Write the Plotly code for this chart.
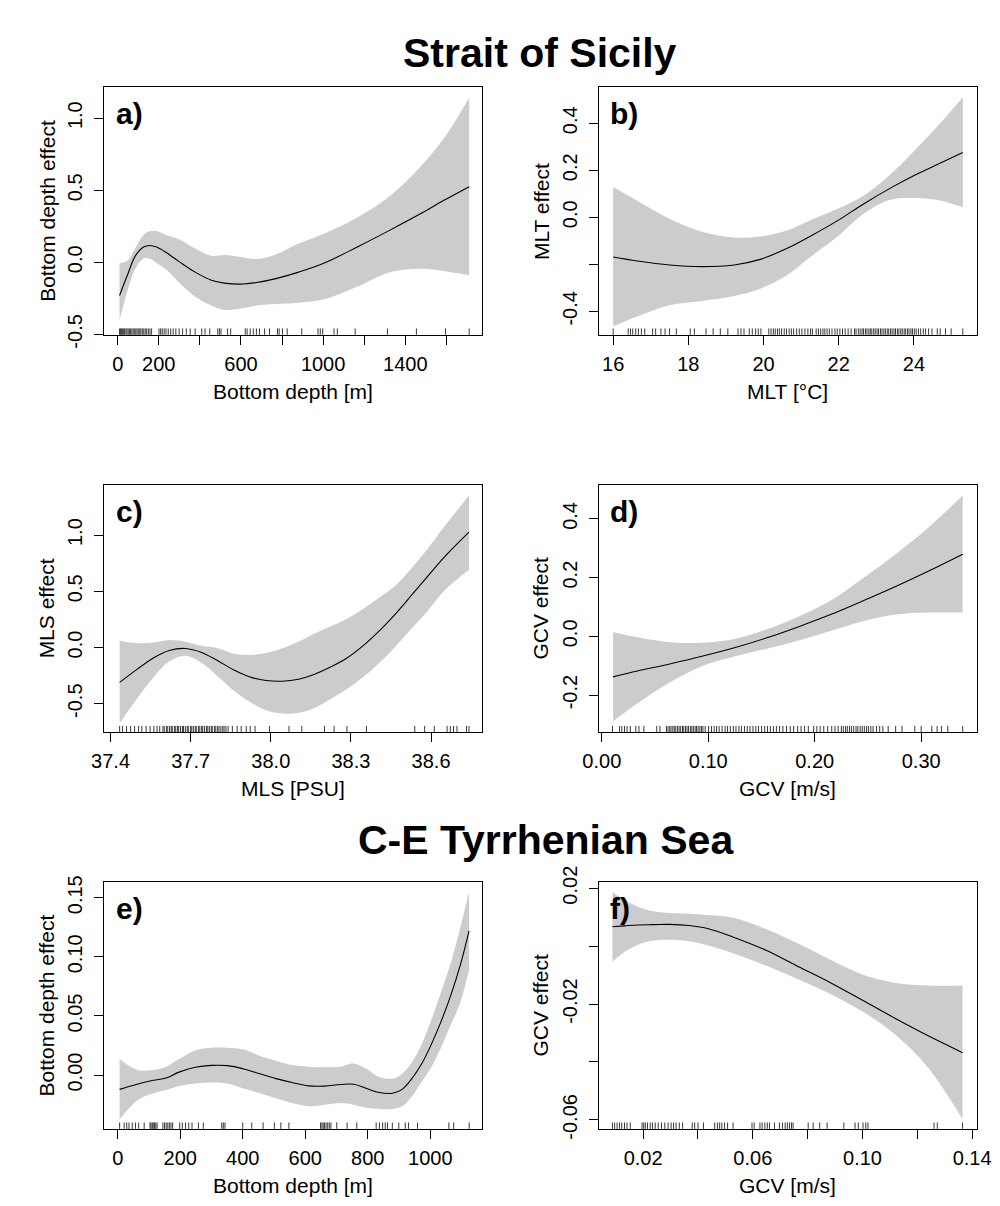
import plotly.graph_objects as go

W, H = 1000, 1206
FONT = "Arial, Liberation Sans, sans-serif"

# ---------------- data ----------------
# a) Strait of Sicily - bottom depth
a_x = [9, 47, 86, 126, 157, 189, 236, 299, 377, 456, 519, 597, 676, 770, 881, 1006, 1164, 1321, 1478, 1588, 1711]
a_fit = [-0.23, -0.09, 0.045, 0.106, 0.117, 0.106, 0.068, 0.005, -0.068, -0.124, -0.144, -0.151, -0.14, -0.113, -0.068, -0.005, 0.105, 0.22, 0.34, 0.43, 0.525]
a_upper = [-0.005, 0.011, 0.10, 0.19, 0.215, 0.218, 0.19, 0.16, 0.096, 0.045, 0.05, 0.037, 0.023, 0.055, 0.13, 0.20, 0.31, 0.455, 0.67, 0.86, 1.142]
a_lower = [-0.40, -0.2, -0.045, 0.027, 0.025, -0.005, -0.05, -0.14, -0.238, -0.30, -0.33, -0.32, -0.30, -0.29, -0.28, -0.257, -0.17, -0.07, -0.045, -0.06, -0.09]
a_rug = [9, 14, 19, 24, 29, 34, 40, 45, 51, 57, 63, 69, 75, 81, 88, 94, 100, 107, 113, 120, 127, 134, 141, 149,
         157, 165, 201, 209, 217, 226, 235, 246, 258, 270, 283, 299, 316, 334, 353, 377, 409, 425, 448, 487, 495,
         503, 535, 550, 621, 630, 645, 660, 675, 690, 715, 739, 778, 786, 802, 825, 896, 975, 986, 998, 1053, 1069,
         1156, 1313, 1454, 1596, 1711]

# b) MLT
b_x = [16.0, 16.64, 17.50, 18.36, 19.22, 19.91, 20.60, 21.28, 21.97, 22.66, 23.35, 24.03, 24.72, 25.30]
b_fit = [-0.169, -0.186, -0.203, -0.21, -0.203, -0.179, -0.134, -0.077, -0.014, 0.057, 0.122, 0.18, 0.232, 0.276]
b_upper = [0.129, 0.071, -0.006, -0.061, -0.086, -0.082, -0.057, -0.01, 0.036, 0.092, 0.179, 0.286, 0.404, 0.511]
b_lower = [-0.464, -0.422, -0.374, -0.356, -0.335, -0.304, -0.249, -0.165, -0.082, 0.015, 0.074, 0.082, 0.071, 0.043]
b_rug = [16.00, 16.40, 16.46, 16.52, 16.60, 16.67, 16.75, 16.84, 17.05, 17.13, 17.27, 17.38, 17.50, 17.68, 18.05,
         18.16, 18.47, 18.66, 18.85, 19.05, 19.32, 19.40, 19.48, 19.62, 19.70, 19.79, 19.86, 19.93, 20.14, 20.20,
         20.26, 20.31, 20.37, 20.42, 20.48, 20.55, 20.61, 20.68, 20.74, 20.80, 20.88, 20.95, 21.02, 21.10, 21.18,
         21.25, 21.30, 21.40, 21.46, 21.52, 21.58, 21.63, 21.69, 21.75, 21.82, 21.90, 21.96, 22.03, 22.10, 22.17,
         22.25, 22.33, 22.42, 22.46, 22.52, 22.57, 22.62, 22.66, 22.71, 22.75, 22.80, 22.84, 22.88, 22.93, 22.97,
         23.02, 23.06, 23.11, 23.15, 23.20, 23.24, 23.29, 23.33, 23.38, 23.42, 23.47, 23.51, 23.56, 23.60, 23.65,
         23.69, 23.74, 23.78, 23.83, 23.87, 23.92, 23.96, 24.01, 24.06, 24.12, 24.18, 24.25, 24.31, 24.39, 24.48,
         24.62, 24.70, 24.84, 24.99, 25.30]

# c) MLS
c_x = [37.434, 37.499, 37.560, 37.620, 37.680, 37.741, 37.800, 37.862, 37.922, 37.983, 38.043, 38.104, 38.164,
       38.225, 38.285, 38.346, 38.406, 38.467, 38.527, 38.588, 38.648, 38.742]
c_fit = [-0.311, -0.195, -0.093, -0.026, -0.009, -0.044, -0.116, -0.2, -0.262, -0.294, -0.30, -0.282, -0.238,
         -0.172, -0.093, 0.017, 0.148, 0.30, 0.465, 0.635, 0.80, 1.026]
c_upper = [0.061, 0.038, 0.044, 0.067, 0.052, 0.015, -0.006, -0.055, -0.067, -0.049, -0.006, 0.052, 0.125, 0.189,
           0.256, 0.343, 0.445, 0.552, 0.706, 0.881, 1.07, 1.352]
c_lower = [-0.674, -0.456, -0.267, -0.122, -0.073, -0.137, -0.253, -0.384, -0.486, -0.558, -0.587, -0.581, -0.538,
           -0.456, -0.369, -0.262, -0.137, 0.009, 0.169, 0.328, 0.503, 0.692]
c_rug = [37.434, 37.445, 37.460, 37.475, 37.490, 37.505, 37.517, 37.533, 37.548, 37.562, 37.574, 37.584, 37.596,
         37.601, 37.609, 37.614, 37.621, 37.627, 37.631, 37.639, 37.644, 37.651, 37.655, 37.662, 37.669, 37.673,
         37.680, 37.687, 37.691, 37.699, 37.704, 37.710, 37.717, 37.721, 37.729, 37.734, 37.741, 37.745, 37.752,
         37.759, 37.764, 37.770, 37.777, 37.781, 37.789, 37.794, 37.801, 37.806, 37.813, 37.820, 37.825, 37.832,
         37.840, 37.856, 37.874, 37.889, 37.908, 37.923, 37.941, 37.995, 38.068, 38.116, 38.201, 38.237, 38.285,
         38.358, 38.539, 38.576, 38.612, 38.660, 38.672, 38.684, 38.697, 38.733, 38.742]

# d) GCV (Strait of Sicily)
d_x = [0.0106, 0.0334, 0.0638, 0.094, 0.1245, 0.155, 0.185, 0.2155, 0.246, 0.276, 0.3066, 0.339]
d_fit = [-0.138, -0.118, -0.094, -0.068, -0.039, -0.005, 0.033, 0.075, 0.122, 0.17, 0.222, 0.28]
d_upper = [0.015, -0.003, -0.02, -0.022, -0.009, 0.024, 0.068, 0.123, 0.20, 0.28, 0.37, 0.48]
d_lower = [-0.289, -0.229, -0.157, -0.102, -0.069, -0.042, -0.014, 0.019, 0.052, 0.074, 0.081, 0.081]
d_rug = [0.010, 0.0167, 0.0188, 0.0213, 0.0237, 0.0267, 0.0319, 0.0349, 0.0395, 0.0516, 0.0546, 0.0607, 0.0622,
         0.0638, 0.0650, 0.0667, 0.0681, 0.0695, 0.0712, 0.0726, 0.0741, 0.0758, 0.0770, 0.0786, 0.0801, 0.0815,
         0.0832, 0.0846, 0.0860, 0.0877, 0.0890, 0.0905, 0.0921, 0.0936, 0.0950, 0.0971, 0.1003, 0.1030, 0.1055,
         0.1078, 0.1102, 0.1130, 0.1158, 0.1181, 0.1207, 0.1236, 0.1260, 0.1288, 0.1311, 0.1340, 0.1366, 0.1392,
         0.1420, 0.1447, 0.1472, 0.1501, 0.1530, 0.1556, 0.1583, 0.1612, 0.1640, 0.1670, 0.1701, 0.1735, 0.1770,
         0.1802, 0.1840, 0.1872, 0.1905, 0.1940, 0.1990, 0.2020, 0.2051, 0.2085, 0.2122, 0.2160, 0.2190, 0.2220,
         0.2250, 0.2268, 0.2290, 0.2306, 0.2327, 0.2345, 0.2366, 0.2388, 0.2405, 0.2427, 0.2446, 0.2466, 0.2487,
         0.2505, 0.2527, 0.2548, 0.2580, 0.2610, 0.2640, 0.2690, 0.2760, 0.2820, 0.2940, 0.3000, 0.3100, 0.3150,
         0.3190, 0.3250, 0.3390]

# e) C-E Tyrrhenian Sea - bottom depth
e_x = [6, 62, 114, 155, 196, 248, 300, 351, 403, 455, 506, 558, 610, 662, 713, 755, 796, 837, 879, 910, 941, 972,
       1003, 1034, 1065, 1096, 1124]
e_fit = [-0.0121, -0.0077, -0.0044, -0.0025, 0.0025, 0.0066, 0.0082, 0.008, 0.0052, 0.0011, -0.003, -0.0063,
         -0.0091, -0.0093, -0.008, -0.0077, -0.0113, -0.0148, -0.0154, -0.0121, -0.003, 0.0093, 0.0258, 0.045,
         0.067, 0.093, 0.122]
e_upper = [0.0135, 0.0044, 0.0044, 0.0071, 0.0135, 0.0209, 0.0231, 0.0231, 0.0217, 0.0162, 0.0121, 0.0085, 0.0071,
           0.0066, 0.0071, 0.0099, 0.0052, -0.0016, -0.003, 0.0011, 0.0107, 0.0258, 0.0464, 0.0698, 0.0945, 0.1247,
           0.155]
e_lower = [-0.0374, -0.0214, -0.0154, -0.0126, -0.0093, -0.0071, -0.0063, -0.0071, -0.0113, -0.0154, -0.0195,
           -0.0236, -0.0264, -0.025, -0.0236, -0.025, -0.0277, -0.0286, -0.0286, -0.0264, -0.0181, -0.0058, 0.0066,
           0.0231, 0.0423, 0.0615, 0.089]
e_rug = [6.2, 20.6, 28.9, 36.1, 46.5, 56.8, 67.1, 84.7, 103.3, 106.4, 110.5, 113.6, 117.8, 121.9, 126.0, 144.6,
         149.8, 155.0, 160.2, 165.3, 170.5, 175.7, 198.4, 206.7, 217.0, 227.3, 237.7, 258.3, 273.9, 332.8, 337.9,
         343.1, 399.9, 428.9, 465.1, 501.2, 521.9, 547.7, 649.0, 653.2, 657.3, 661.5, 666.6, 671.8, 677.0, 682.1,
         700.7, 733.8, 764.8, 826.8, 837.2, 847.5, 855.8, 863.0, 878.5, 899.2, 919.9, 930.2, 959.1, 1059.4,
         1074.9, 1124.5]

# f) GCV (C-E Tyrrhenian Sea)
f_x = [0.0088, 0.0132, 0.0179, 0.0238, 0.0296, 0.0367, 0.0438, 0.0532, 0.065, 0.0767, 0.0885, 0.1002, 0.112,
       0.1238, 0.1365]
f_fit = [0.0067, 0.007, 0.0073, 0.0074, 0.0075, 0.0071, 0.006, 0.003, -0.0015, -0.0071, -0.0127, -0.0188, -0.025,
         -0.0309, -0.0368]
f_upper = [0.0187, 0.0159, 0.0137, 0.012, 0.0114, 0.0112, 0.0107, 0.0097, 0.0058, 0.0008, -0.0048, -0.0099,
           -0.0127, -0.0136, -0.0136]
f_lower = [-0.0054, -0.002, 0.0004, 0.0019, 0.0022, 0.0017, 0.0002, -0.0026, -0.0068, -0.0115, -0.0166, -0.0227,
           -0.0306, -0.0418, -0.0597]
f_rug = [0.0088, 0.0096, 0.0105, 0.0114, 0.0122, 0.0132, 0.0141, 0.0153, 0.0196, 0.0202, 0.0208, 0.0216, 0.0226,
         0.0234, 0.0244, 0.0255, 0.0267, 0.0279, 0.0291, 0.0302, 0.0311, 0.0320, 0.0332, 0.0344, 0.0379, 0.0388,
         0.0400, 0.0420, 0.0461, 0.0471, 0.0479, 0.0487, 0.0497, 0.0508, 0.0528, 0.0597, 0.0605, 0.0626, 0.0634,
         0.0644, 0.0653, 0.0661, 0.0679, 0.0697, 0.0708, 0.0718, 0.0726, 0.0734, 0.0741, 0.0747, 0.0802, 0.0820,
         0.0844, 0.0871, 0.0932, 0.0973, 0.0985, 0.1002, 0.1012, 0.1020, 0.1261, 0.1273, 0.1365]

# tick values / labels
a_xt = [0, 200, 400, 600, 800, 1000, 1200, 1400, 1600]
a_xl = ["0", "200", "", "600", "", "1000", "", "1400", ""]
a_yt = [-0.5, 0.0, 0.5, 1.0]
a_yl = ["-0.5", "0.0", "0.5", "1.0"]
b_xt = [16, 18, 20, 22, 24]
b_xl = ["16", "18", "20", "22", "24"]
b_yt = [-0.4, -0.2, 0.0, 0.2, 0.4]
b_yl = ["-0.4", "", "0.0", "0.2", "0.4"]
c_xt = [37.4, 37.7, 38.0, 38.3, 38.6]
c_xl = ["37.4", "37.7", "38.0", "38.3", "38.6"]
c_yt = [-0.5, 0.0, 0.5, 1.0]
c_yl = ["-0.5", "0.0", "0.5", "1.0"]
d_xt = [0.0, 0.1, 0.2, 0.3]
d_xl = ["0.00", "0.10", "0.20", "0.30"]
d_yt = [-0.2, 0.0, 0.2, 0.4]
d_yl = ["-0.2", "0.0", "0.2", "0.4"]
e_xt = [0, 200, 400, 600, 800, 1000]
e_xl = ["0", "200", "400", "600", "800", "1000"]
e_yt = [0.0, 0.05, 0.10, 0.15]
e_yl = ["0.00", "0.05", "0.10", "0.15"]
f_xt = [0.02, 0.04, 0.06, 0.08, 0.10, 0.12, 0.14]
f_xl = ["0.02", "", "0.06", "", "0.10", "", "0.14"]
f_yt = [-0.06, -0.04, -0.02, 0.0, 0.02]
f_yl = ["-0.06", "", "-0.02", "", "0.02"]

# ---------------- layout description ----------------
panels = [
    dict(lab="a)", x=a_x, fit=a_fit, up=a_upper, lo=a_lower, rug=a_rug, box=(83, 473, 64, 318),
         xr=[-64.6, 1775], yr=[-0.503, 1.214], xt=a_xt, xl=a_xl, yt=a_yt, yl=a_yl,
         xtitle="Bottom depth [m]", ytitle="Bottom depth effect"),
    dict(lab="b)", x=b_x, fit=b_fit, up=b_upper, lo=b_lower, rug=b_rug, box=(593, 983, 64, 318),
         xr=[15.613, 25.665], yr=[-0.5, 0.553], xt=b_xt, xl=b_xl, yt=b_yt, yl=b_yl,
         xtitle="MLT [°C]", ytitle="MLT effect"),
    dict(lab="c)", x=c_x, fit=c_fit, up=c_upper, lo=c_lower, rug=c_rug, box=(83, 473, 472, 726),
         xr=[37.377, 38.792], yr=[-0.755, 1.447], xt=c_xt, xl=c_xl, yt=c_yt, yl=c_yl,
         xtitle="MLS [PSU]", ytitle="MLS effect"),
    dict(lab="d)", x=d_x, fit=d_fit, up=d_upper, lo=d_lower, rug=d_rug, box=(593, 983, 472, 726),
         xr=[-0.003, 0.352], yr=[-0.327, 0.516], xt=d_xt, xl=d_xl, yt=d_yt, yl=d_yl,
         xtitle="GCV [m/s]", ytitle="GCV effect"),
    dict(lab="e)", x=e_x, fit=e_fit, up=e_upper, lo=e_lower, rug=e_rug, box=(83, 473, 880, 1133),
         xr=[-42.5, 1166.5], yr=[-0.0455, 0.163], xt=e_xt, xl=e_xl, yt=e_yt, yl=e_yl,
         xtitle="Bottom depth [m]", ytitle="Bottom depth effect"),
    dict(lab="f)", x=f_x, fit=f_fit, up=f_upper, lo=f_lower, rug=f_rug, box=(593, 983, 880, 1133),
         xr=[0.00376, 0.1416], yr=[-0.0631, 0.022], xt=f_xt, xl=f_xl, yt=f_yt, yl=f_yl,
         xtitle="GCV [m/s]", ytitle="GCV effect"),
]

fig = go.Figure()
annotations = []
shapes = []


def px(xp):
    return xp / W


def py(yp):
    return 1 - yp / H


for i, p in enumerate(panels, start=1):
    xa = "x" if i == 1 else f"x{i}"
    ya = "y" if i == 1 else f"y{i}"
    xk = "xaxis" if i == 1 else f"xaxis{i}"
    yk = "yaxis" if i == 1 else f"yaxis{i}"
    x0, x1, y0, y1 = p["box"]

    fig.add_trace(go.Scatter(x=p["x"], y=p["up"], mode="lines", xaxis=xa, yaxis=ya,
                             line=dict(width=0, shape="spline", color="rgba(0,0,0,0)"),
                             showlegend=False, hoverinfo="skip"))
    fig.add_trace(go.Scatter(x=p["x"], y=p["lo"], mode="lines", xaxis=xa, yaxis=ya,
                             line=dict(width=0, shape="spline", color="rgba(0,0,0,0)"),
                             fill="tonexty", fillcolor="#cccccc", showlegend=False, hoverinfo="skip"))
    fig.add_trace(go.Scatter(x=p["x"], y=p["fit"], mode="lines", xaxis=xa, yaxis=ya,
                             line=dict(width=1.1, shape="spline", color="black"),
                             showlegend=False))
    for v in p["rug"]:
        shapes.append(dict(type="line", xref=xa, yref=f"{ya} domain", x0=v, x1=v, y0=0, y1=0.026,
                           line=dict(color="#222222", width=0.9)))

    common = dict(showline=True, mirror=True, linecolor="black", linewidth=1, ticks="outside", ticklen=9,
                  tickcolor="black", tickwidth=1, showgrid=False, zeroline=False,
                  tickfont=dict(family=FONT, size=20, color="black"))
    fig.layout[xk] = dict(domain=[px(x0), px(x1)], range=p["xr"], anchor=ya, tickmode="array",
                          tickvals=p["xt"], ticktext=p["xl"], ticklabelstandoff=2, **common)
    fig.layout[yk] = dict(domain=[py(y1), py(y0)], range=p["yr"], anchor=xa, tickmode="array",
                          tickvals=p["yt"], ticktext=p["yl"], tickangle=-90, ticklabelstandoff=4, **common)

    # panel letter
    annotations.append(dict(text=f"<b>{p['lab']}</b>", x=px(x0 + 10), y=py(y0 + 46), xref="paper", yref="paper",
                            xanchor="left", yanchor="bottom", showarrow=False,
                            font=dict(family=FONT, size=30, color="black")))
    # axis titles
    annotations.append(dict(text=p["xtitle"], x=px((x0 + x1) / 2), y=py(y1 + 58), xref="paper", yref="paper",
                            xanchor="center", yanchor="middle", showarrow=False,
                            font=dict(family=FONT, size=21, color="black")))
    annotations.append(dict(text=p["ytitle"], x=px(x0 - 59.5), y=py((y0 + y1) / 2), xref="paper", yref="paper",
                            xanchor="center", yanchor="middle", textangle=-90, showarrow=False,
                            font=dict(family=FONT, size=21, color="black")))

# region titles
annotations.append(dict(text="<b>Strait of Sicily</b>", x=px(533), y=py(54), xref="paper", yref="paper",
                        xanchor="center", yanchor="bottom", showarrow=False,
                        font=dict(family=FONT, size=41, color="black")))
annotations.append(dict(text="<b>C-E Tyrrhenian Sea</b>", x=px(539), y=py(862), xref="paper", yref="paper",
                        xanchor="center", yanchor="bottom", showarrow=False,
                        font=dict(family=FONT, size=41, color="black")))

fig.update_layout(width=W, height=H, margin=dict(l=0, r=0, t=0, b=0), paper_bgcolor="white",
                  plot_bgcolor="white", annotations=annotations, shapes=shapes, showlegend=False)

fig.write_html("out.html")
